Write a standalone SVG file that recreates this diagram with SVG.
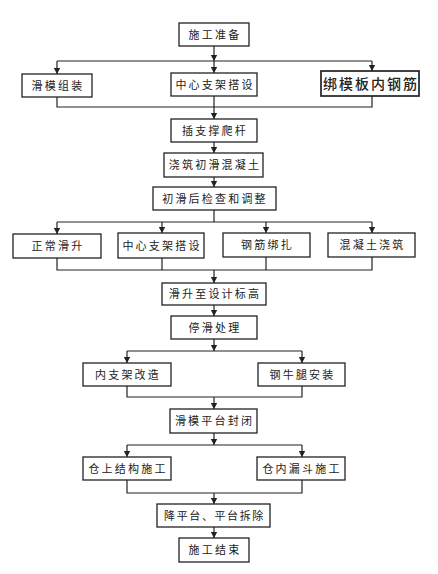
<svg xmlns="http://www.w3.org/2000/svg" width="438" height="574" viewBox="0 0 438 574">
<style>
.box{fill:#fff;stroke:#222;stroke-width:1.3}
.big{stroke-width:1.7}
.t{font-family:"Noto Sans CJK SC","Noto Sans CJK JP",sans-serif;font-size:11px;fill:#222;text-anchor:middle;letter-spacing:2.2px}
.tb{font-size:14px;font-weight:500;letter-spacing:2px}
.c{fill:none;stroke:#222;stroke-width:1.2}
</style>
<defs>
<marker id="ah" viewBox="0 0 6 8" refX="6" refY="4" markerWidth="6" markerHeight="8" markerUnits="userSpaceOnUse" orient="auto">
<path d="M0,0.8 L6,4 L0,7.2 Z" fill="#222"/>
</marker>
</defs>
<rect width="438" height="574" fill="#fff"/>
<g id="connectors">
<path class="c" d="M214,46 V61" marker-end="url(#ah)"/>
<path class="c" d="M214,61 V73" marker-end="url(#ah)"/>
<path class="c" d="M57,61 H372"/>
<path class="c" d="M57,61 V74" marker-end="url(#ah)"/>
<path class="c" d="M372,61 V71" marker-end="url(#ah)"/>
<path class="c" d="M57,97 V107 H372 V96"/>
<path class="c" d="M214,96 V119" marker-end="url(#ah)"/>
<path class="c" d="M214,142 V153" marker-end="url(#ah)"/>
<path class="c" d="M214,177 V187" marker-end="url(#ah)"/>
<path class="c" d="M214,210 V222"/>
<path class="c" d="M57,222 H372"/>
<path class="c" d="M57,222 V234" marker-end="url(#ah)"/>
<path class="c" d="M162,222 V233" marker-end="url(#ah)"/>
<path class="c" d="M266,222 V233" marker-end="url(#ah)"/>
<path class="c" d="M372,222 V233" marker-end="url(#ah)"/>
<path class="c" d="M57,258 V270 H372 V257 M162,258 V270 M266,257 V270"/>
<path class="c" d="M214,270 V283" marker-end="url(#ah)"/>
<path class="c" d="M214,305 V316" marker-end="url(#ah)"/>
<path class="c" d="M214,339 V351" marker-end="url(#ah)"/>
<path class="c" d="M127,351 H302"/>
<path class="c" d="M127,351 V363" marker-end="url(#ah)"/>
<path class="c" d="M302,351 V363" marker-end="url(#ah)"/>
<path class="c" d="M127,386 V397 H302 V386"/>
<path class="c" d="M214,397 V409" marker-end="url(#ah)"/>
<path class="c" d="M214,433 V445" marker-end="url(#ah)"/>
<path class="c" d="M127,445 H302"/>
<path class="c" d="M127,445 V457" marker-end="url(#ah)"/>
<path class="c" d="M302,445 V457" marker-end="url(#ah)"/>
<path class="c" d="M127,480 V493 H302 V480"/>
<path class="c" d="M214,493 V504" marker-end="url(#ah)"/>
<path class="c" d="M214,527 V538" marker-end="url(#ah)"/>
</g>
<g id="n1"><rect class="box" x="179" y="23" width="70" height="23"/><text class="t" x="215" y="38.7">施工准备</text></g>
<g id="n2"><rect class="box" x="22" y="74" width="70" height="23"/><text class="t" x="58" y="89.7">滑模组装</text></g>
<g id="n3"><rect class="box" x="171" y="73" width="86" height="23"/><text class="t" x="215" y="88.7">中心支架搭设</text></g>
<g id="n4"><rect class="box big" x="321" y="71" width="98" height="25"/><text class="t tb" x="371" y="88.5">绑模板内钢筋</text></g>
<g id="n5"><rect class="box" x="171" y="119" width="86" height="23"/><text class="t" x="215" y="134.7">插支撑爬杆</text></g>
<g id="n6"><rect class="box" x="164" y="153" width="99" height="24"/><text class="t" x="215" y="169.2">浇筑初滑混凝土</text></g>
<g id="n7"><rect class="box" x="153" y="187" width="123" height="23"/><text class="t" x="215" y="202.7">初滑后检查和调整</text></g>
<g id="n8"><rect class="box" x="13" y="234" width="88" height="24"/><text class="t" x="58" y="250.2">正常滑升</text></g>
<g id="n9"><rect class="box" x="118" y="233" width="86" height="25"/><text class="t" x="162" y="249.7">中心支架搭设</text></g>
<g id="n10"><rect class="box" x="223" y="233" width="87" height="24"/><text class="t" x="267.5" y="249.2">钢筋绑扎</text></g>
<g id="n11"><rect class="box" x="328" y="233" width="87" height="24"/><text class="t" x="372.5" y="249.2">混凝土浇筑</text></g>
<g id="n12"><rect class="box" x="162" y="283" width="104" height="22"/><text class="t" x="215" y="298.2">滑升至设计标高</text></g>
<g id="n13"><rect class="box" x="171" y="316" width="86" height="23"/><text class="t" x="215" y="331.7">停滑处理</text></g>
<g id="n14"><rect class="box" x="83" y="363" width="88" height="23"/><text class="t" x="128" y="378.7">内支架改造</text></g>
<g id="n15"><rect class="box" x="258" y="363" width="87" height="23"/><text class="t" x="302.5" y="378.7">钢牛腿安装</text></g>
<g id="n16"><rect class="box" x="170" y="409" width="87" height="24"/><text class="t" x="214.5" y="425.2">滑模平台封闭</text></g>
<g id="n17"><rect class="box" x="83" y="457" width="88" height="23"/><text class="t" x="128" y="472.7">仓上结构施工</text></g>
<g id="n18"><rect class="box" x="257" y="457" width="88" height="23"/><text class="t" x="302" y="472.7">仓内漏斗施工</text></g>
<g id="n19"><rect class="box" x="157" y="504" width="113" height="23"/><text class="t" x="214.5" y="519.7" style="letter-spacing:1.6px">降平台、平台拆除</text></g>
<g id="n20"><rect class="box" x="179" y="538" width="70" height="24"/><text class="t" x="215" y="554.2">施工结束</text></g>
</svg>
